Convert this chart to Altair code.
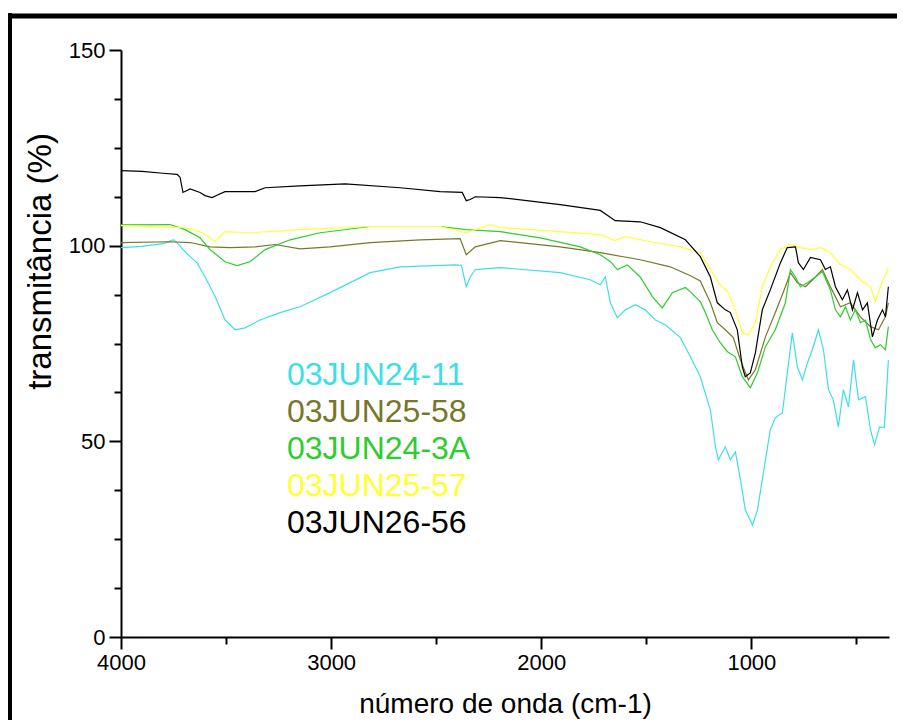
import altair as alt
import pandas as pd

names = ["03JUN24-11", "03JUN25-58", "03JUN24-3A", "03JUN25-57", "03JUN26-56"]
colors = ["#3CDFE6", "#77772A", "#2ECC2E", "#FFFF33", "#000000"]

# wavenumber (cm-1) and transmittance (%)
cyan_w = [4000, 3900, 3800, 3750, 3720, 3705, 3671, 3638, 3600, 3552, 3505, 3457, 3410, 3338, 3243, 3148,
          3005, 2814, 2671, 2410, 2380, 2357, 2338, 2314, 2195, 1910, 1767, 1719, 1695, 1671, 1638, 1600,
          1552, 1505, 1457, 1410, 1338, 1290, 1243, 1195, 1171, 1157, 1124, 1100, 1076, 1052, 1029, 995,
          971, 943, 910, 886, 852, 829, 805, 781, 757, 733, 710, 681, 657, 633, 610, 586, 562, 538, 514,
          490, 457, 433, 414, 390, 367, 348]
cyan_t = [99.5, 99.8, 100.5, 101.5, 100.0, 99.0, 97.2, 95.6, 92.0, 87.0, 81.0, 78.5, 79.0, 81.0, 82.9, 84.4,
          88.0, 93.1, 94.6, 95.1, 95.0, 89.5, 92.0, 93.9, 94.4, 93.1, 91.3, 90.0, 92.0, 85.4, 81.6, 83.6,
          84.9, 83.6, 81.0, 79.8, 76.5, 71.6, 66.5, 58.0, 48.6, 45.3, 48.6, 45.3, 47.3, 40.2, 32.5, 28.6,
          32.5, 41.9, 52.9, 56.0, 57.3, 67.5, 77.7, 69.0, 65.7, 70.1, 73.4, 78.5, 73.4, 63.2, 60.6, 53.7,
          63.2, 58.8, 70.8, 60.6, 61.4, 52.9, 49.1, 53.7, 53.5, 70.8]

olive_w = [4000, 3767, 3671, 3576, 3481, 3362, 3267, 3148, 3005, 2814, 2576, 2386, 2357, 2314, 2195, 1910,
           1719, 1529, 1386, 1290, 1243, 1195, 1162, 1124, 1086, 1052, 1014, 981, 933, 886, 838, 814, 781,
           743, 695, 662, 624, 576, 529, 481, 433, 395, 362, 348]
olive_t = [100.8, 101.0, 100.8, 99.7, 99.5, 99.7, 100.3, 99.2, 99.7, 100.8, 101.5, 101.8, 97.7, 99.7, 101.3,
           99.7, 98.2, 96.4, 94.6, 92.3, 91.0, 85.4, 80.3, 78.5, 76.5, 70.8, 65.7, 68.3, 76.7, 82.9, 89.5,
           93.1, 90.5, 89.5, 92.0, 93.9, 89.5, 84.4, 85.4, 81.8, 79.3, 78.5, 81.8, 85.4]

green_w = [4000, 3767, 3695, 3624, 3576, 3505, 3448, 3386, 3314, 3195, 3052, 2814, 2481, 2357, 2195, 2005,
           1814, 1719, 1671, 1638, 1590, 1529, 1471, 1424, 1376, 1314, 1290, 1243, 1219, 1186, 1148, 1114,
           1076, 1043, 1005, 971, 933, 886, 838, 814, 790, 767, 733, 695, 662, 624, 600, 576, 552, 529,
           505, 481, 457, 433, 410, 386, 362, 348]
green_t = [105.3, 105.4, 104.1, 102.0, 99.0, 95.9, 94.9, 95.9, 99.0, 101.5, 103.3, 104.9, 104.9, 104.1,
           103.6, 102.0, 99.7, 97.7, 95.9, 93.9, 95.1, 92.0, 87.0, 84.1, 88.0, 89.3, 88.2, 85.7, 82.9,
           78.5, 75.2, 72.9, 71.6, 66.5, 63.7, 67.5, 74.2, 78.5, 85.4, 93.9, 92.0, 89.5, 90.5, 92.0, 93.4,
           88.7, 83.6, 81.8, 84.4, 81.0, 83.6, 80.3, 81.0, 76.0, 73.9, 74.7, 73.4, 79.3]

yellow_w = [4000, 3695, 3624, 3576, 3552, 3505, 3386, 3148, 2814, 2481, 2357, 2243, 2195, 1910, 1719, 1648,
            1600, 1481, 1338, 1243, 1195, 1148, 1110, 1076, 1043, 1014, 981, 948, 910, 862, 814, 767, 719,
            671, 624, 576, 529, 481, 433, 410, 386, 348]
yellow_t = [105.1, 104.6, 103.6, 102.0, 101.0, 103.6, 103.3, 104.1, 104.9, 104.9, 103.3, 105.4, 104.6, 103.6,
            102.8, 101.3, 102.3, 101.0, 99.7, 98.2, 93.9, 90.0, 88.0, 83.6, 77.7, 77.2, 80.3, 89.5, 94.6,
            99.0, 100.3, 99.5, 99.0, 99.5, 98.2, 95.1, 93.9, 91.3, 89.5, 85.7, 89.5, 94.4]

black_w = [4000, 3900, 3800, 3733, 3719, 3705, 3671, 3624, 3600, 3567, 3538, 3505, 3362, 3314, 3148, 2933,
           2671, 2481, 2376, 2357, 2338, 2314, 2195, 1910, 1743, 1719, 1648, 1529, 1433, 1314, 1243, 1195,
           1162, 1124, 1100, 1067, 1043, 1029, 1005, 981, 948, 910, 862, 829, 790, 776, 752, 719, 671, 648,
           624, 600, 567, 543, 519, 495, 471, 448, 424, 400, 376, 362, 348]
black_t = [119.2, 119.0, 118.5, 118.2, 117.5, 113.6, 114.5, 113.6, 112.8, 112.3, 113.0, 113.8, 113.8, 114.8,
           115.3, 115.8, 114.8, 113.8, 113.6, 111.5, 111.8, 112.5, 112.3, 110.5, 109.2, 109.0, 106.4, 106.1,
           104.6, 101.5, 97.2, 92.0, 85.4, 83.6, 82.9, 78.5, 69.0, 66.5, 67.5, 72.6, 83.6, 88.7, 95.6, 99.5,
           99.7, 95.6, 93.9, 97.0, 96.4, 93.9, 94.6, 89.5, 86.2, 88.7, 83.6, 88.0, 83.6, 85.4, 76.7, 81.0,
           83.6, 81.8, 89.5]

series_w = [cyan_w, olive_w, green_w, yellow_w, black_w]
series_t = [cyan_t, olive_t, green_t, yellow_t, black_t]

rows = []
for k, (name, ws, ts) in enumerate(zip(names, series_w, series_t)):
    for w, t in zip(ws, ts):
        rows.append({"serie": name, "k": k, "w": w, "t": t})
df = pd.DataFrame(rows)

FONT = "Liberation Sans"

x_axis = alt.Axis(
    values=[4000, 3500, 3000, 2500, 2000, 1500, 1000, 500],
    labelExpr="datum.value % 1000 == 0 ? datum.label : ''",
    format="d",
    tickSize={"condition": {"test": "datum.value % 1000 == 0", "value": 12}, "value": 7},
    tickWidth=2, tickColor="black", domainWidth=2, domainColor="black",
    labelFont=FONT, labelFontSize=22, labelColor="black", labelPadding=3,
    labelFlush=False, labelOverlap=False,
    grid=False,
    title="número de onda (cm-1)", titleFont=FONT, titleFontSize=28, titleFontWeight="normal",
    titleColor="black", titleBaseline="alphabetic", titleY=75,
)
y_axis = alt.Axis(
    values=[0, 12.5, 25, 37.5, 50, 62.5, 75, 87.5, 100, 112.5, 125, 137.5, 150],
    labelExpr="datum.value % 50 == 0 ? datum.label : ''",
    format="d",
    tickSize={"condition": {"test": "datum.value % 50 == 0", "value": 12}, "value": 7},
    tickWidth=2, tickColor="black", domainWidth=2, domainColor="black",
    labelFont=FONT, labelFontSize=22, labelColor="black", labelPadding=4,
    labelFlush=False, labelOverlap=False,
    grid=False,
    title="transmitância (%)", titleFont=FONT, titleFontSize=33, titleFontWeight="normal",
    titleColor="black", titleX=-81, titleY=211, titleBaseline="middle", titleAlign="center",
)

lines = alt.Chart(df).mark_line(strokeWidth=1.2, clip=True).encode(
    x=alt.X("w:Q", scale=alt.Scale(domain=[345, 4000], reverse=True, nice=False, zero=False), axis=x_axis),
    y=alt.Y("t:Q", scale=alt.Scale(domain=[0, 150], nice=False), axis=y_axis),
    color=alt.Color("serie:N", scale=alt.Scale(domain=names, range=colors), legend=None),
    detail="k:N",
)

texts = []
for i, name in enumerate(names):
    texts.append(
        alt.Chart(pd.DataFrame({"serie": [name]})).mark_text(
            align="left", baseline="middle", fontSize=32, font=FONT, color=colors[i]
        ).encode(x=alt.value(166), y=alt.value(325 + 37 * i), text="serie:N")
    )

frame = pd.DataFrame({"k": [0]})
top_border = alt.Chart(frame).mark_rule(color="black", strokeWidth=5).encode(
    x=alt.value(-113), x2=alt.value(776), y=alt.value(-34)
)
left_border = alt.Chart(frame).mark_rule(color="black", strokeWidth=4).encode(
    x=alt.value(-111), y=alt.value(-37), y2=alt.value(680)
)

chart = alt.layer(lines, *texts, top_border, left_border).properties(
    width=768, height=587,
    padding={"left": 113, "top": 42, "right": 8, "bottom": 83},
    autosize=alt.AutoSizeParams(type="none"),
).configure_view(stroke=None)

chart.save("out.html", embed_options={"renderer": "svg", "actions": False})
